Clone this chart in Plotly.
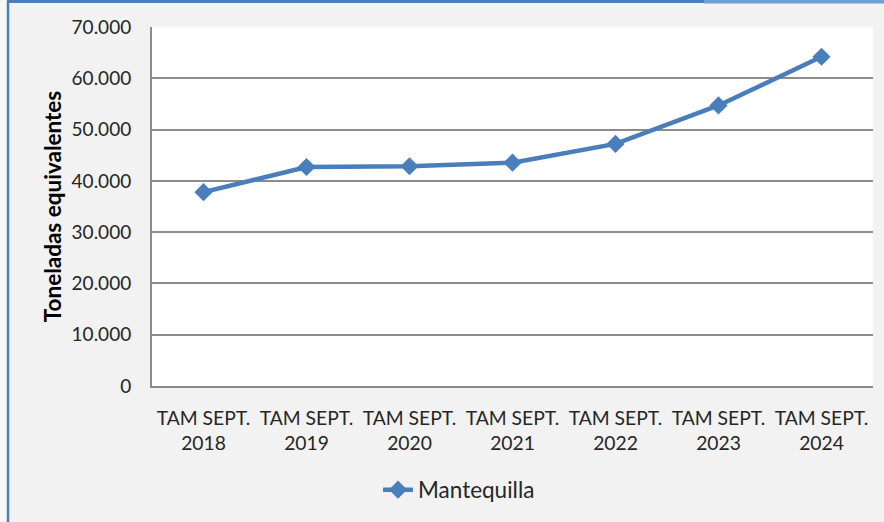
import plotly.graph_objects as go

categories = ["TAM SEPT.<br>2018", "TAM SEPT.<br>2019", "TAM SEPT.<br>2020", "TAM SEPT.<br>2021",
              "TAM SEPT.<br>2022", "TAM SEPT.<br>2023", "TAM SEPT.<br>2024"]
mantequilla = [37800, 42700, 42850, 43550, 47200, 54700, 64200]
y_tickvals = [0, 10000, 20000, 30000, 40000, 50000, 60000, 70000]
y_ticktext = ["0", "10.000", "20.000", "30.000", "40.000", "50.000", "60.000", "70.000"]

W, H = 884, 522
L, R, T, B = 152, 11, 27, 136
pw, ph = W - L - R, H - T - B

def px(x):
    return (x - L) / pw

def py(y):
    return (H - B - y) / ph

BLUE = "#4a7ebb"
FONT = "Lato"

fig = go.Figure()
fig.add_trace(go.Scatter(
    x=categories, y=mantequilla, mode="lines+markers", name="Mantequilla",
    line=dict(color=BLUE, width=4.5),
    marker=dict(symbol="diamond", size=14, color=BLUE),
))

shapes = [
    dict(type="rect", xref="paper", yref="paper", x0=px(0), x1=px(7), y0=py(H), y1=py(0),
         fillcolor="#f8f8f8", line=dict(width=0), layer="below"),
    dict(type="line", xref="paper", yref="paper", x0=px(8), x1=px(8), y0=py(H), y1=py(1),
         line=dict(color=BLUE, width=2.5)),
    dict(type="line", xref="paper", yref="paper", x0=px(7), x1=px(704), y0=py(1.5), y1=py(1.5),
         line=dict(color=BLUE, width=3)),
    dict(type="line", xref="paper", yref="paper", x0=px(704), x1=px(W), y0=py(1.5), y1=py(1.5),
         line=dict(color="#6d9fd8", width=4)),
]

fig.update_layout(
    width=W, height=H,
    margin=dict(l=L, r=R, t=T, b=B),
    paper_bgcolor="#f2f2f2", plot_bgcolor="#ffffff",
    font=dict(family=FONT, color="#262626"),
    showlegend=True,
    legend=dict(orientation="h", x=px(378), xanchor="left", y=py(490), yanchor="middle",
                font=dict(size=22.5, color="#262626", family=FONT), bgcolor="rgba(0,0,0,0)",
                itemwidth=30),
    shapes=shapes,
    xaxis=dict(
        type="category", range=[-0.5, 6.5], showgrid=False, showline=True,
        linecolor="#8c8c8c", linewidth=2, ticks="", tickfont=dict(size=19.3, family=FONT, color="#262626"),
        ticklabelstandoff=14, fixedrange=True,
    ),
    yaxis=dict(
        range=[0, 70000], tickvals=y_tickvals, ticktext=y_ticktext,
        showgrid=True, gridcolor="#8c8c8c", gridwidth=2, zeroline=False,
        showline=True, linecolor="#8c8c8c", linewidth=2, ticks="",
        tickfont=dict(size=19, family=FONT, color="#262626"), ticklabelstandoff=15,
        title=dict(text="<b>Toneladas equivalentes</b>", font=dict(size=22.5, family=FONT, color="#000000"),
                   standoff=4),
        automargin=False, fixedrange=True,
    ),
)

fig.write_html(
    "out.html",
    config={"displayModeBar": False},
    post_script="document.body.style.margin='0';document.body.style.overflow='hidden';",
)
